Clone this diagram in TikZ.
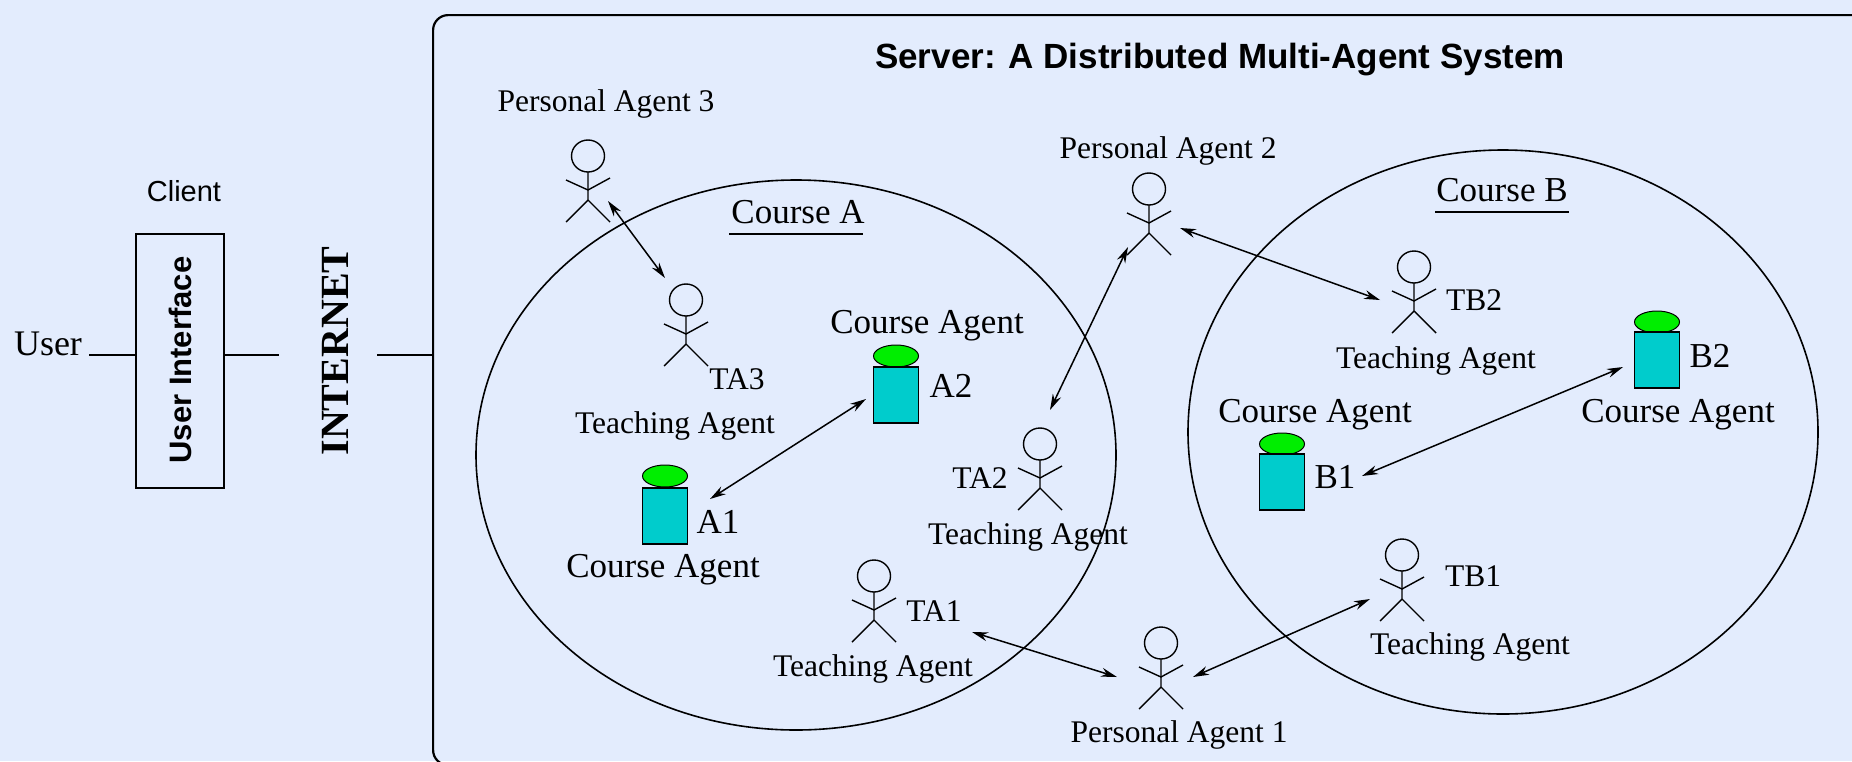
\documentclass[tikz,border=0pt]{standalone}
\usepackage{fontspec}
\setmainfont{Liberation Serif}
\setsansfont{Liberation Sans}
\usetikzlibrary{shapes.geometric, arrows.meta, positioning}
\definecolor{bgblue}{HTML}{E3ECFD}
\definecolor{tealbox}{HTML}{00CCCC}
\definecolor{greentop}{HTML}{00EE00}
\tikzstyle{small} = [inner sep=0pt, font=\fontsize{31.5}{36}\selectfont]
\tikzstyle{big} = [inner sep=0pt, font=\fontsize{35}{40}\selectfont]
\tikzstyle{course} = [ellipse, draw=black, line width=1.6pt, inner sep=0pt]
\tikzstyle{bodybox} = [rectangle, draw=black, line width=1.6pt, fill=tealbox, minimum width=45pt, minimum height=56pt, inner sep=0pt]
\tikzstyle{topcap} = [ellipse, draw=black, line width=1pt, fill=greentop, minimum width=45pt, minimum height=22pt, inner sep=0pt]
\tikzstyle{arrow} = [line width=1.5pt,{Stealth[length=16pt,width=9pt]}-{Stealth[length=16pt,width=9pt]}]
\tikzstyle{wire} = [line width=1.8pt]
\tikzset{stickman/.pic={
	\draw[line width=1.4pt] (0,0) circle [x radius=16.5pt, y radius=16pt];
	\draw[line width=1.4pt] (0,16) -- (0,44) -- (-22,66);
	\draw[line width=1.4pt] (0,44) -- (22,66);
	\draw[line width=1.4pt] (-22,24) -- (0,34) -- (22,22);
}}

\begin{document}
\begin{tikzpicture}[x=1pt,y=-1pt]
	\useasboundingbox (0,0) rectangle (1852,761);
	\clip (0,0) rectangle (1852,761);
	\fill[bgblue] (0,0) rectangle (1852,761);

	\node (server) [rectangle, rounded corners=15pt, draw=black, line width=2.2pt, anchor=north west, minimum width=1450pt, minimum height=750pt] at (432,14) {};
	\node (title) [inner sep=0pt, font=\sffamily\bfseries\fontsize{35}{40}\selectfont] at (1220,60) {Server: A Distributed Multi-Agent System};

	% Client
	\node (client) [inner sep=0pt, font=\sffamily\fontsize{29}{33}\selectfont] at (184,191) {Client};
	\node (ui) [rectangle, draw=black, line width=1.8pt, minimum width=88pt, minimum height=254pt] at (180,361) {};
	\node (uitext) [rotate=90, inner sep=0pt, font=\sffamily\bfseries\fontsize{31}{36}\selectfont] at (180,360) {User Interface};
	\node (user) [inner sep=0pt, font=\fontsize{36}{40}\selectfont] at (48,344) {User};
	\node (internet) [rotate=90, inner sep=0pt, font=\bfseries\fontsize{40}{44}\selectfont] at (335,351) {INTERNET};
	\coordinate (userend) at (89,355);
	\coordinate (netleft) at (279,355);
	\coordinate (netright) at (377,355);

	% Courses
	\node (coursea) [course, minimum width=640pt, minimum height=550pt] at (796,455) {};
	\node (courseb) [course, minimum width=630pt, minimum height=564pt] at (1503,432) {};
	\node (atitle) [big] at (798,212) {Course A};
	\node (btitle) [big] at (1502,190) {Course B};
	\coordinate (aleft) at (729,234);
	\coordinate (aright) at (863,234);
	\coordinate (bleft) at (1435,212);
	\coordinate (bright) at (1569,212);

	% Personal and teaching agents
	\pic at (588,156) {stickman};
	\pic at (1149,189) {stickman};
	\pic at (1161,643) {stickman};
	\pic at (686,300) {stickman};
	\pic at (1040,444) {stickman};
	\pic at (874,576) {stickman};
	\pic at (1414,267) {stickman};
	\pic at (1402,555) {stickman};

	\node (pa3) [small] at (606,104) {Personal Agent 3};
	\node (pa2) [small] at (1168,151) {Personal Agent 2};
	\node (pa1) [small] at (1179,735) {Personal Agent 1};
	\node (ta3) [small] at (737,379) {TA3};
	\node (ta3name) [small] at (675,426) {Teaching Agent};
	\node (ta2) [small] at (980,478) {TA2};
	\node (ta2name) [small] at (1028,537) {Teaching Agent};
	\node (ta1) [small] at (934,611) {TA1};
	\node (ta1name) [small] at (873,669) {Teaching Agent};
	\node (tb2) [small] at (1474,300) {TB2};
	\node (tb2name) [small] at (1436,361) {Teaching Agent};
	\node (tb1) [small] at (1473,576) {TB1};
	\node (tb1name) [small] at (1470,647) {Teaching Agent};

	% Course agents
	\node (a1cap) [topcap] at (665,476) {};
	\node (a1) [bodybox] at (665,516) {};
	\node (a2cap) [topcap] at (896,356) {};
	\node (a2) [bodybox] at (896,395) {};
	\node (b1cap) [topcap] at (1282,444) {};
	\node (b1) [bodybox] at (1282,482) {};
	\node (b2cap) [topcap] at (1657,322) {};
	\node (b2) [bodybox] at (1657,360) {};
	\node (a1name) [big] at (718,522) {A1};
	\node (a2name) [big] at (951,386) {A2};
	\node (b1name) [big] at (1335,477) {B1};
	\node (b2name) [big] at (1710,356) {B2};
	\node (a1agent) [big] at (663,570) {Course Agent};
	\node (a2agent) [big] at (927,326) {Course Agent};
	\node (b1agent) [big] at (1315,415) {Course Agent};
	\node (b2agent) [big] at (1678,415) {Course Agent};

	% Arrow ends
	\coordinate (pa3end) at (608,201);
	\coordinate (ta3end) at (665,278);
	\coordinate (pa2low) at (1128,247);
	\coordinate (ta2end) at (1050,410);
	\coordinate (pa2right) at (1180,228);
	\coordinate (tb2end) at (1380,300);
	\coordinate (a1end) at (710,499);
	\coordinate (a2end) at (866,399);
	\coordinate (b1end) at (1362,476);
	\coordinate (b2end) at (1623,367);
	\coordinate (ta1end) at (972,632);
	\coordinate (pa1left) at (1117,677);
	\coordinate (pa1right) at (1193,677);
	\coordinate (tb1end) at (1370,599);

	% Arrows
	\draw [wire] (userend) -- (userend -| ui.west);
	\draw [wire] (netleft -| ui.east) -- (netleft);
	\draw [wire] (netright) -- (netright -| server.west);
	\draw [wire] (aleft) -- (aright);
	\draw [wire] (bleft) -- (bright);
	\draw [arrow] (pa3end) -- (ta3end);
	\draw [arrow] (pa2low) -- (ta2end);
	\draw [arrow] (pa2right) -- (tb2end);
	\draw [arrow] (a1end) -- (a2end);
	\draw [arrow] (b1end) -- (b2end);
	\draw [arrow] (ta1end) -- (pa1left);
	\draw [arrow] (pa1right) -- (tb1end);
\end{tikzpicture}
\end{document}
